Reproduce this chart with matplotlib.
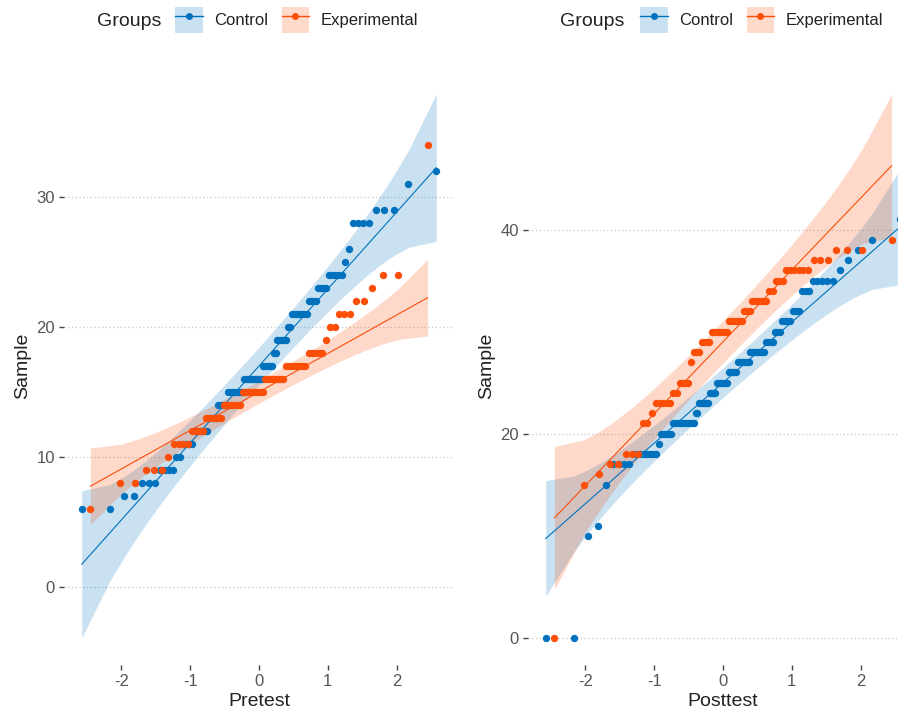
import numpy as np
import matplotlib
matplotlib.use("Agg")
import matplotlib.pyplot as plt
from matplotlib.patches import Patch
from matplotlib.lines import Line2D
from statistics import NormalDist

plt.rcParams['font.family'] = ['Liberation Sans', 'DejaVu Sans']

groups = ["Control", "Experimental"]
group_colors = ["#0072BD", "#FC4E07"]

# Pretest samples (sorted values and how many times each occurs)
pre_control_values = [6, 7, 8, 9, 10, 11, 12, 13, 14, 15, 16, 17, 18, 19, 20, 21, 22, 23, 24, 25, 26, 28, 29, 31, 32]
pre_control_counts = [2, 2, 3, 4, 2, 4, 6, 4, 5, 9, 11, 6, 2, 6, 2, 8, 4, 4, 5, 1, 1, 4, 3, 1, 1]
pre_exp_values = [6, 8, 9, 10, 11, 12, 13, 14, 15, 16, 17, 18, 19, 20, 21, 22, 23, 24, 34]
pre_exp_counts = [1, 2, 3, 1, 4, 4, 6, 7, 9, 8, 8, 5, 1, 2, 3, 2, 1, 2, 1]

# Posttest samples
post_control_values = [0, 10, 11, 15, 17, 18, 19, 20, 21, 22, 23, 24, 25, 26, 27, 28, 29, 30, 31, 32, 34, 35, 36, 37, 38, 39, 41]
post_control_counts = [2, 1, 1, 1, 4, 8, 1, 5, 11, 2, 6, 4, 7, 5, 7, 8, 4, 3, 4, 3, 3, 5, 1, 1, 1, 1, 1]
post_exp_values = [0, 15, 16, 17, 18, 21, 22, 23, 24, 25, 27, 28, 29, 30, 31, 32, 33, 34, 35, 36, 37, 38, 39]
post_exp_counts = [1, 1, 1, 2, 3, 2, 1, 5, 2, 4, 1, 3, 4, 7, 6, 3, 6, 2, 3, 6, 3, 3, 1]

panel_titles = ["Pretest", "Posttest"]
yticks_list = [[0, 10, 20, 30], [0, 20, 40]]
xticks = [-2, -1, 0, 1, 2]

nd = NormalDist()


def qq(values, counts):
    s = np.repeat(values, counts).astype(float)
    n = len(s)
    a = 3 / 8 if n <= 10 else 0.5
    p = (np.arange(1, n + 1) - a) / (n + 1 - 2 * a)
    z = np.array([nd.inv_cdf(pi) for pi in p])
    q1, q3 = np.quantile(s, [0.25, 0.75])
    zq1, zq3 = nd.inv_cdf(0.25), nd.inv_cdf(0.75)
    slope = (q3 - q1) / (zq3 - zq1)
    inter = q1 - slope * zq1
    fit = inter + slope * z
    dens = np.array([nd.pdf(v) for v in z])
    se = slope / dens * np.sqrt(p * (1 - p) / n)
    zc = nd.inv_cdf(0.975)
    return z, s, fit, fit - zc * se, fit + zc * se


def blend(hexc, alpha):
    c = np.array(matplotlib.colors.to_rgb(hexc))
    return tuple(1 - alpha + alpha * c)


W, H = 898, 724
fig = plt.figure(figsize=(W / 100, H / 100), dpi=100)

panel_data = [
    [(pre_control_values, pre_control_counts), (pre_exp_values, pre_exp_counts)],
    [(post_control_values, post_control_counts), (post_exp_values, post_exp_counts)],
]
axes_rect = [[64 / W, 59 / H, 390 / W, 598 / H], [528 / W, 59 / H, 390 / W, 598 / H]]
legend_pos = [(97, 175), (560, 640)]

for k in range(2):
    ax = fig.add_axes(axes_rect[k])
    res = [qq(v, c) for v, c in panel_data[k]]
    # bands
    for (z, s, fit, lo, hi), col in zip(res, group_colors):
        ax.fill_between(z, lo, hi, color=col, alpha=0.21, linewidth=0, zorder=1)
    for (z, s, fit, lo, hi), col in zip(res, group_colors):
        ax.plot(z, fit, color=col, linewidth=0.8, zorder=2)
    for (z, s, fit, lo, hi), col in zip(res, group_colors):
        ax.scatter(z, s, s=28, color=col, linewidths=0, zorder=3)
    xs = np.concatenate([r[0] for r in res])
    ys = np.concatenate([np.concatenate([r[1], r[3], r[4]]) for r in res])
    xr = xs.max() - xs.min()
    yr = ys.max() - ys.min()
    ax.set_xlim(xs.min() - 0.05 * xr, xs.max() + 0.05 * xr)
    ax.set_ylim(ys.min() - 0.05 * yr, ys.max() + 0.05 * yr)
    for sp in ax.spines.values():
        sp.set_visible(False)
    ax.set_xticks(xticks)
    ax.set_xticklabels([str(t) for t in xticks])
    ax.set_yticks(yticks_list[k])
    ax.yaxis.grid(True, linestyle=(0, (1, 2)), color='#c8c8c8', linewidth=0.9)
    ax.set_axisbelow(True)
    ax.tick_params(axis='both', length=3.5, width=1, color='#444444',
                   labelcolor='#555555', labelsize=12, pad=3)
    ax.set_xlabel(panel_titles[k], fontsize=14, color='#222222', labelpad=3)
    ax.set_ylabel("Sample", fontsize=14, color='#222222', labelpad=4)

    gx, kx = legend_pos[k]
    fig.text(gx / W, 1 - 21 / H, "Groups", fontsize=14, color='#222222',
             ha='left', va='center')
    handles = []
    for col in group_colors:
        handles.append((Patch(facecolor=blend(col, 0.21), edgecolor='none'),
                        Line2D([], [], color=col, linewidth=1, marker='o',
                               markersize=5, markeredgewidth=0)))
    fig.legend(handles, groups, loc='center left',
               bbox_to_anchor=(kx / W, 1 - 20 / H), ncol=2, frameon=False,
               borderpad=0, borderaxespad=0, handlelength=1.65,
               handleheight=2.1, handletextpad=0.7, columnspacing=0.8,
               fontsize=12, labelcolor='#222222')

fig.savefig("out.png", dpi=100)
